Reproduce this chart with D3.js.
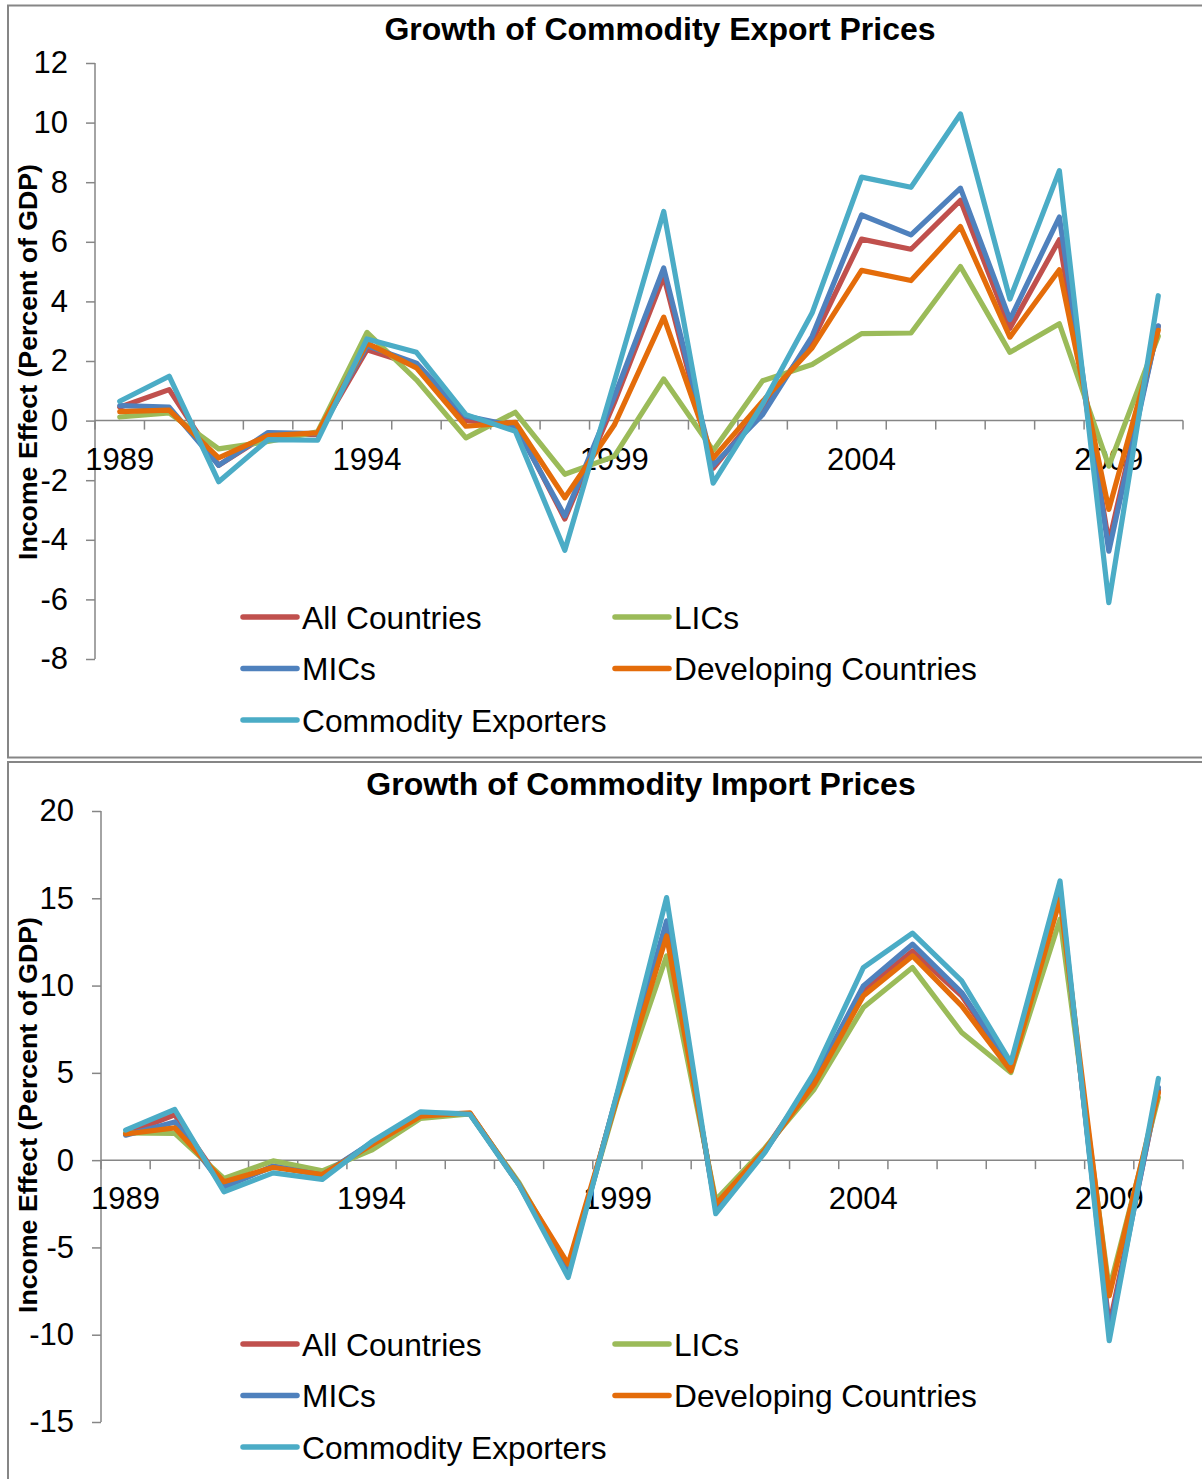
<!DOCTYPE html>
<html lang="en">

<head>
    <meta charset="UTF-8">
    <title>Commodity Prices Income Effect</title>
    <style>
        body {
            margin: 0;
            background: #fff;
        }

        text {
            font-family: "Liberation Sans", Arial, sans-serif;
            fill: #000;
        }

        .series path {
            fill: none;
            stroke-width: 5.2px;
            stroke-linejoin: round;
            stroke-linecap: round;
        }

        .frame {
            fill: none;
            stroke: #868686;
            stroke-width: 2px;
        }

        .axis line, .axis path {
            stroke: #868686;
            stroke-width: 1.5px;
        }
    </style>
</head>

<body>

    <svg width="1202" height="1479"></svg>

    <script src="https://d3js.org/d3.v7.min.js"></script>

    <script>
        var years = ["1989", "1990", "1991", "1992", "1993", "1994", "1995", "1996", "1997", "1998", "1999",
            "2000", "2001", "2002", "2003", "2004", "2005", "2006", "2007", "2008", "2009", "2010"];
        var yearLabels = ["1989", "1994", "1999", "2004", "2009"];

        var seriesNames = ["All Countries", "LICs", "MICs", "Developing Countries", "Commodity Exporters"];
        var seriesColors = ["#C0504D", "#9BBB59", "#4F81BD", "#E46C0A", "#4BACC6"];

        // export prices panel
        var allCountriesExp = [0.45, 1.04, -1.5, -0.45, -0.47, 2.38, 1.85, 0.0, -0.1, -3.3, 0.6, 4.84, -1.6, 0.45, 2.66, 6.09, 5.75, 7.39, 3.1, 6.07, -4.1, 3.16];
        var licsExp = [0.12, 0.26, -0.95, -0.7, -0.38, 2.96, 1.37, -0.58, 0.28, -1.8, -1.2, 1.4, -1.0, 1.34, 1.88, 2.92, 2.94, 5.17, 2.29, 3.25, -1.53, 2.83];
        var micsExp = [0.5, 0.45, -1.5, -0.4, -0.44, 2.51, 1.93, 0.15, -0.19, -3.2, 0.8, 5.12, -1.5, 0.2, 2.83, 6.9, 6.23, 7.8, 3.39, 6.83, -4.38, 3.18];
        var devExp = [0.3, 0.35, -1.25, -0.5, -0.41, 2.6, 1.77, -0.19, -0.06, -2.59, -0.15, 3.47, -1.26, 0.65, 2.44, 5.04, 4.7, 6.51, 2.8, 5.06, -2.98, 3.03];
        var commExp = [0.65, 1.49, -2.05, -0.64, -0.66, 2.74, 2.29, 0.2, -0.36, -4.35, 1.3, 7.02, -2.1, 0.55, 3.61, 8.17, 7.83, 10.29, 4.08, 8.39, -6.11, 4.19];
        var expTicks = [12, 10, 8, 6, 4, 2, 0, -2, -4, -6, -8];

        // import prices panel
        var allCountriesImp = [1.5, 2.6, -1.5, -0.35, -0.85, 0.95, 2.65, 2.67, -1.4, -6.4, 3.8, 13.4, -2.75, 0.6, 4.7, 9.7, 11.98, 9.41, 5.3, 15.3, -9.5, 4.0];
        var licsImp = [1.56, 1.53, -1.05, -0.04, -0.61, 0.57, 2.39, 2.65, -1.3, -6.2, 3.5, 11.7, -2.29, 0.7, 4.06, 8.74, 11.03, 7.31, 5.02, 13.8, -7.39, 3.59];
        var micsImp = [1.43, 2.19, -1.56, -0.35, -0.85, 1.0, 2.7, 2.67, -1.4, -6.5, 3.8, 13.7, -2.8, 0.5, 4.64, 9.98, 12.37, 9.6, 5.4, 15.6, -9.87, 4.16];
        var devImp = [1.5, 1.85, -1.24, -0.42, -0.82, 0.86, 2.52, 2.71, -1.4, -5.95, 3.6, 12.84, -2.52, 0.6, 4.35, 9.41, 11.7, 8.84, 5.11, 14.94, -7.77, 3.87];
        var commImp = [1.72, 2.9, -1.81, -0.73, -1.1, 1.05, 2.77, 2.63, -1.43, -6.72, 3.9, 15.04, -3.07, 0.45, 5.0, 11.03, 13.0, 10.27, 5.59, 15.99, -10.34, 4.68];
        var impTicks = [20, 15, 10, 5, 0, -5, -10, -15];

        var yTitle = "Income Effect (Percent of GDP)";

        var svg = d3.select("svg");

        drawPanel({
            title: "Growth of Commodity Export Prices",
            titleX: 660, titleY: 40,
            frame: [8, 5.5, 1300, 752],
            left: 95, right: 1183, top: 63, bottom: 659,
            domain: [-8, 12], ticks: expTicks,
            yTitleY: 362,
            legendY: 617,
            values: [allCountriesExp, licsExp, micsExp, devExp, commExp]
        });

        drawPanel({
            title: "Growth of Commodity Import Prices",
            titleX: 641, titleY: 795,
            frame: [8, 762, 1300, 800],
            left: 101, right: 1183, top: 811, bottom: 1422,
            domain: [-15, 20], ticks: impTicks,
            yTitleY: 1115,
            legendY: 1344,
            values: [allCountriesImp, licsImp, micsImp, devImp, commImp]
        });

        function drawPanel(p) {
            var g = svg.append("g");

            g.append("rect")
                .attr("class", "frame")
                .attr("x", p.frame[0])
                .attr("y", p.frame[1])
                .attr("width", p.frame[2])
                .attr("height", p.frame[3]);

            var x = d3.scaleBand()
                .domain(years)
                .range([p.left, p.right]);

            var y = d3.scaleLinear()
                .domain(p.domain)
                .range([p.bottom, p.top]);

            var bw = x.bandwidth();

            // y axis
            g.append("g")
                .attr("class", "axis")
                .attr("transform", "translate(" + p.left + ",0)")
                .call(d3.axisLeft(y)
                    .tickValues(p.ticks)
                    .tickFormat(function (d) { return String(d); })
                    .tickSize(9)
                    .tickSizeOuter(0)
                    .tickPadding(18))
                .call(function (a) {
                    a.selectAll("text")
                        .style("font-size", "31px")
                        .attr("fill", "#000");
                    a.select(".domain").attr("d", "M0," + y(p.domain[1]) + "V" + y(p.domain[0]));
                });

            // x axis along zero
            var y0 = y(0);
            var xa = g.append("g").attr("class", "axis");

            xa.append("line")
                .attr("x1", p.left).attr("x2", p.right)
                .attr("y1", y0).attr("y2", y0);

            xa.selectAll(".xtick")
                .data(years.concat(["end"]))
                .enter().append("line")
                .attr("x1", function (d) { return d === "end" ? p.right : x(d); })
                .attr("x2", function (d) { return d === "end" ? p.right : x(d); })
                .attr("y1", y0)
                .attr("y2", y0 + 9);

            xa.selectAll("text")
                .data(yearLabels)
                .enter().append("text")
                .attr("x", function (d) { return x(d) + bw / 2; })
                .attr("y", y0 + 49)
                .attr("text-anchor", "middle")
                .style("font-size", "31px")
                .text(function (d) { return d; });

            // lines
            var line = d3.line()
                .x(function (d, i) { return x(years[i]) + bw / 2; })
                .y(function (d) { return y(d); });

            g.append("g")
                .attr("class", "series")
                .selectAll("path")
                .data(p.values)
                .enter().append("path")
                .attr("stroke", function (d, i) { return seriesColors[i]; })
                .attr("d", line);

            // titles
            g.append("text")
                .attr("x", p.titleX)
                .attr("y", p.titleY)
                .attr("text-anchor", "middle")
                .style("font-size", "32px")
                .style("font-weight", "bold")
                .text(p.title);

            g.append("text")
                .attr("transform", "translate(37," + p.yTitleY + ") rotate(-90)")
                .attr("text-anchor", "middle")
                .style("font-size", "26.7px")
                .style("font-weight", "bold")
                .text(yTitle);

            // legend, two columns
            var legend = g.append("g")
                .selectAll("g")
                .data(seriesNames)
                .enter().append("g")
                .attr("transform", function (d, i) {
                    var col = i % 2, row = Math.floor(i / 2);
                    return "translate(" + (243 + col * 372) + "," + (p.legendY + row * 51.5) + ")";
                });

            legend.append("line")
                .attr("x1", 0).attr("x2", 54)
                .attr("stroke", function (d, i) { return seriesColors[i]; })
                .attr("stroke-width", 5.5)
                .attr("stroke-linecap", "round");

            legend.append("text")
                .attr("x", 59)
                .attr("y", 11.5)
                .style("font-size", "31.7px")
                .text(function (d) { return d; });
        }
    </script>

</body>

</html>
